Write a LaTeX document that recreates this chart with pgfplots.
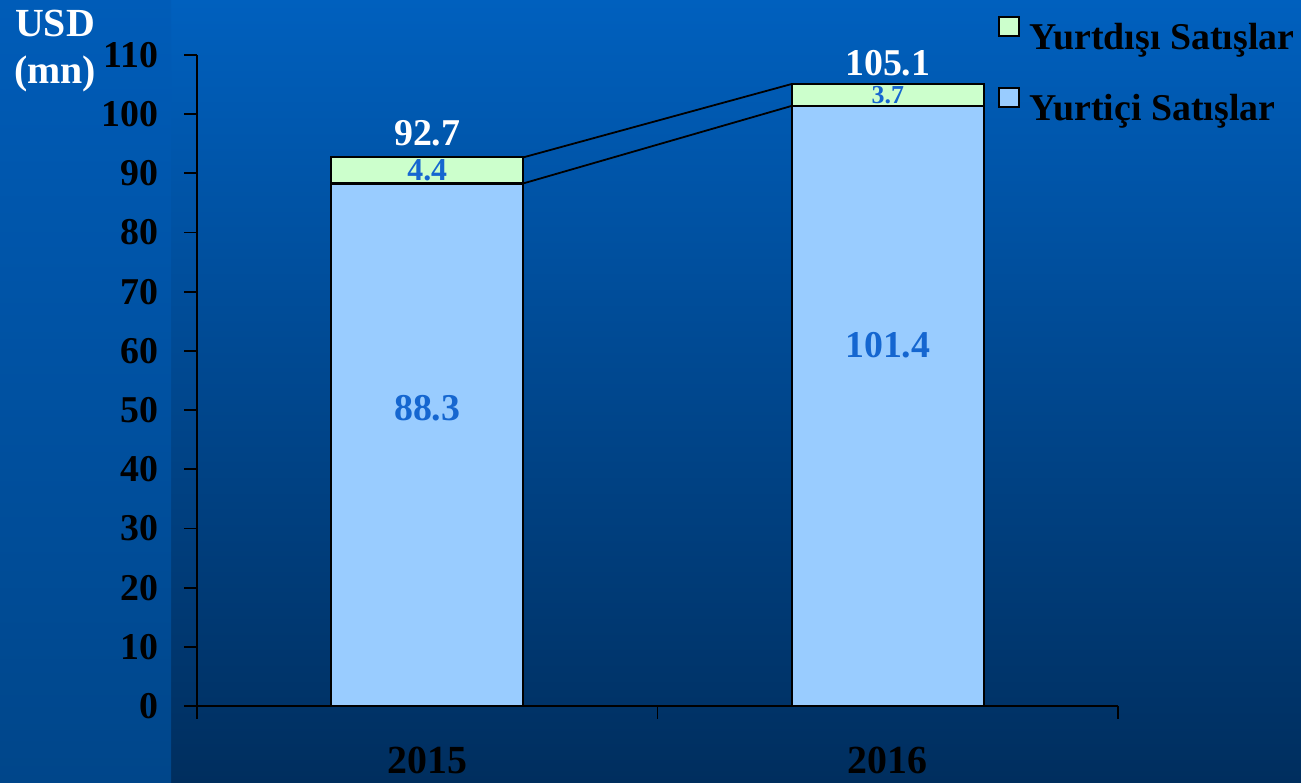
\documentclass[border=0pt]{standalone}
\usepackage{pgfplots}
\pgfplotsset{compat=1.18}
\usepackage{fontspec}
\setmainfont{Liberation Serif}
\definecolor{bgtop}{HTML}{0060BE}
\definecolor{bgbot}{HTML}{002E5E}
\definecolor{lefttop}{HTML}{005CB8}
\definecolor{leftbot}{HTML}{00468A}
\definecolor{domfill}{HTML}{99CCFF}
\definecolor{expfill}{HTML}{CCFFCC}
\definecolor{lblblue}{HTML}{1566D0}
\begin{document}
\begin{tikzpicture}
\shade[top color=bgtop,bottom color=bgbot] (0,0) rectangle (1301bp,783bp);
\shade[top color=lefttop,bottom color=leftbot] (0,0) rectangle (171bp,783bp);
\pgfplotsset{base/.style={scale only axis, width=921bp, height=651bp,
  at={(197bp,77bp)}, anchor=south west, xmin=-0.5, xmax=1.5, ymin=0, ymax=110, clip=false}}
\begin{axis}[base, ybar stacked, bar width=192bp,
  axis x line*=bottom, axis y line*=left,
  axis line style={black, line width=1.8bp},
  xtick={-0.5,0.5,1.5}, xticklabels={},
  ytick={0,10,...,110},
  tick align=outside, major tick length=13bp,
  tick style={black, line width=1.8bp},
  /pgf/number format/assume math mode=true,
  yticklabel style={font=\fontsize{38}{40}\selectfont\bfseries, text=black, xshift=-22bp},
  reverse legend,
  legend cell align=left,
  legend image code/.code={\draw[#1,draw=black,line width=1.8bp] (0bp,1bp) rectangle (20bp,20bp);},
  legend style={at={(0.866,1.063)}, anchor=north west, draw=none, fill=none,
    font=\fontsize{38}{40}\selectfont\bfseries, text=black, row sep=34bp,
    /tikz/every even column/.append style={column sep=0bp},
    /tikz/every odd column/.append style={column sep=8bp}},
]
\addplot[fill=domfill, draw=black, line width=2.2bp] coordinates {(0,88.3) (1,101.4)};
\addlegendentry{Yurtiçi Satışlar}
\addplot[fill=expfill, draw=black, line width=2.2bp] coordinates {(0,4.4) (1,3.7)};
\addlegendentry{Yurtdışı Satışlar}
\end{axis}
\begin{axis}[base, hide axis]
\addplot[black, line width=1.8bp, sharp plot, no marks] coordinates {(0.2085,92.7) (0.7915,105.1)};
\addplot[black, line width=1.8bp, sharp plot, no marks] coordinates {(0.2085,88.3) (0.7915,101.4)};
\node[white, font=\fontsize{38}{40}\selectfont\bfseries] at (axis cs:0,96.8) {92.7};
\node[white, font=\fontsize{38}{40}\selectfont\bfseries] at (axis cs:1,108.6) {105.1};
\node[lblblue, font=\fontsize{32}{34}\selectfont\bfseries] at (axis cs:0,90.5) {4.4};
\node[lblblue, font=\fontsize{26}{28}\selectfont\bfseries] at (axis cs:1,103.2) {3.7};
\node[lblblue, font=\fontsize{38}{40}\selectfont\bfseries] at (axis cs:0,50.3) {88.3};
\node[lblblue, font=\fontsize{38}{40}\selectfont\bfseries] at (axis cs:1,61) {101.4};
\node[black, font=\fontsize{40}{42}\selectfont\bfseries] at (axis cs:0,-9.2) {2015};
\node[black, font=\fontsize{40}{42}\selectfont\bfseries] at (axis cs:1,-9.2) {2016};
\end{axis}
\node[white, font=\fontsize{40}{48}\selectfont\bfseries, align=center] at (55bp,732bp) {USD\\(mn)};
\pgfresetboundingbox
\useasboundingbox (0,0) rectangle (1301bp,783bp);
\end{tikzpicture}
\end{document}
